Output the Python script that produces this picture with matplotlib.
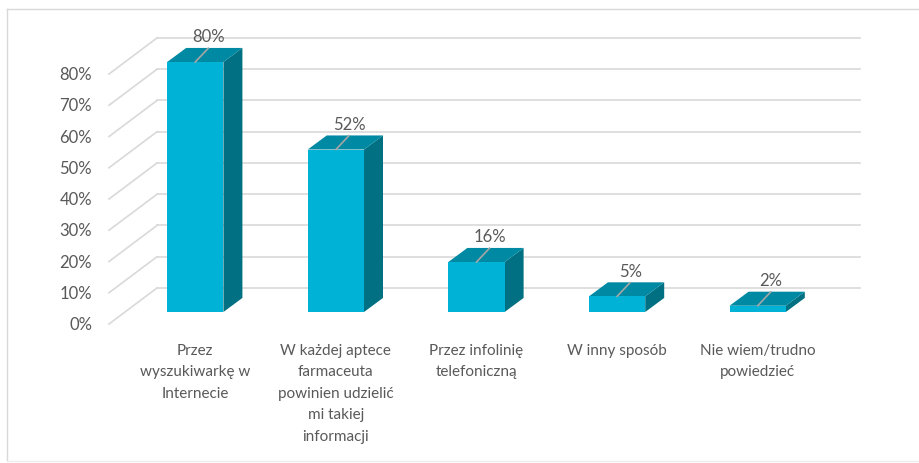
import matplotlib.pyplot as plt
from matplotlib.patches import Polygon, Rectangle

categories = [
    "Przez\nwyszukiwarkę w\nInternecie",
    "W każdej aptece\nfarmaceuta\npowinien udzielić\nmi takiej\ninformacji",
    "Przez infolinię\ntelefoniczną",
    "W inny sposób",
    "Nie wiem/trudno\npowiedzieć",
]
values = [80, 52, 16, 5, 2]
ticks = [0, 10, 20, 30, 40, 50, 60, 70, 80]
tick_labels = ["0%", "10%", "20%", "30%", "40%", "50%", "60%", "70%", "80%"]

FRONT = "#00b3d6"
TOP = "#0089a3"
SIDE = "#007082"
GRID = "#d9d9d9"
TEXT = "#595959"
FONT = "Lato"

# depth vectors in data units (x: category, y: percent)
BAR_D = (0.135, 4.5)      # bar front -> bar back
WALL_D = (0.228, 7.7)     # bar front plane -> back wall
FLOOR_D = (-0.114, -3.85)  # bar front plane -> front edge of floor
BAR_W = 0.4

W, H = 919, 464
fig = plt.figure(figsize=(W / 100, H / 100), dpi=100)
ax = fig.add_axes([125 / W, (H - 313) / H, (828 - 125) / W, 250 / H])
ax.set_xlim(-0.5, 4.5)
ax.set_ylim(0, 80)
ax.axis("off")

# outer frame
fig.add_artist(plt.Line2D([7 / W, 7 / W], [1 - 461 / H, 1 - 10 / H],
                          transform=fig.transFigure, color=GRID, lw=1))
fig.add_artist(plt.Line2D([7 / W, 1], [1 - 10 / H, 1 - 10 / H],
                          transform=fig.transFigure, color=GRID, lw=1))
fig.add_artist(plt.Line2D([7 / W, 1], [1 - 462 / H, 1 - 462 / H],
                          transform=fig.transFigure, color="#eeeeee", lw=1))

# back wall and left wall gridlines
x0, x1 = -0.5, 4.5
for t, lab in zip(ticks, tick_labels):
    ax.plot([x0 + WALL_D[0], x1 + WALL_D[0]], [t + WALL_D[1]] * 2,
            color=GRID, lw=1.2, clip_on=False, zorder=1)
    ax.plot([x0 + FLOOR_D[0], x0 + WALL_D[0]], [t + FLOOR_D[1], t + WALL_D[1]],
            color=GRID, lw=1.2, clip_on=False, zorder=1)
    ax.text(x0 + FLOOR_D[0] - 0.12, t + FLOOR_D[1], lab, ha="right", va="center",
            fontsize=12, color=TEXT, family=FONT)

# 3D bars
for i, v in enumerate(values):
    l, r = i - BAR_W / 2, i + BAR_W / 2
    dx, dy = BAR_D
    side = Polygon([(r, 0), (r + dx, dy), (r + dx, v + dy), (r, v)],
                   closed=True, fc=SIDE, ec="none", clip_on=False, zorder=3)
    top = Polygon([(l, v), (l + dx, v + dy), (r + dx, v + dy), (r, v)],
                  closed=True, fc=TOP, ec="none", clip_on=False, zorder=3)
    front = Rectangle((l, 0), BAR_W, v, fc=FRONT, ec="none", clip_on=False, zorder=4)
    ax.add_patch(side)
    ax.add_patch(top)
    ax.add_patch(front)
    # leader line and value label
    ax.plot([i, i + 0.092], [v, v + 4.4], color="#a6a6a6", lw=1.2,
            clip_on=False, zorder=5)
    ax.text(i + 0.095, v + 8.2, f"{v}%", ha="center", va="center",
            fontsize=12, color=TEXT, family=FONT, zorder=6)

# category labels
for i, c in enumerate(categories):
    ax.text(i, -9.8, c, ha="center", va="top", fontsize=11, color=TEXT,
            family=FONT, linespacing=1.68)

fig.savefig("out.png", dpi=100, facecolor="white")
